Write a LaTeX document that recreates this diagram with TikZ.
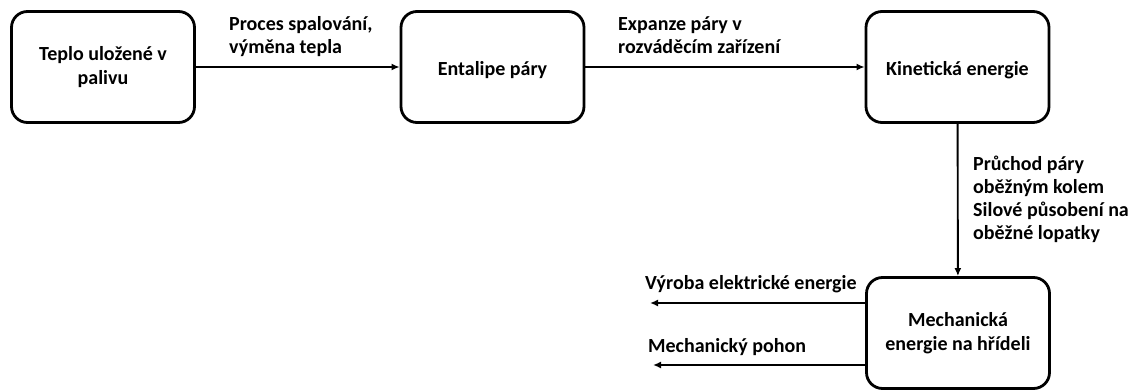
\documentclass[tikz,border=0pt]{standalone}
\usepackage{fontspec}
\setmainfont{Carlito}
\usetikzlibrary{arrows.meta}

\begin{document}
\begin{tikzpicture}[x=1pt,y=-1pt,
    box/.style={draw, line width=2.8pt, rounded corners=16pt,
      minimum width=\bw pt, minimum height=\bh pt, align=center,
      font=\bfseries\fontsize{20}{24}\selectfont,
      execute at begin node={\rule{0pt}{21pt}}},
    flow/.style={line width=1.9pt, -{Latex[length=8pt,width=7pt]}},
    lbl/.style={anchor=north west, align=left, inner sep=0pt,
      font=\bfseries\fontsize{20}{23}\selectfont}]
        \pgfmathsetmacro{\bw}{183}
        \pgfmathsetmacro{\bh}{111}
        \useasboundingbox (0,0) rectangle (1140,390);
        \coordinate (P1) at (103,67);
        \coordinate (P2) at (492.5,67);
        \coordinate (P3) at (957.5,67);
        \coordinate (P4) at (958,333);
        \coordinate (elec) at (650,303);
        \coordinate (mech) at (653,365);
        \node[box] (teplo) at (P1) {Teplo uložené v\\palivu};
        \node[box] (entalpie) at (P2) {Entalipe páry};
        \node[box] (kin) at (P3) {Kinetická energie};
        \node[box] (mech energie) at (P4) {Mechanická\\energie na hřídeli};
        \draw[flow] (teplo) -- (entalpie);
        \draw[flow] (entalpie) -- (kin);
        \draw[flow] (kin) -- (mech energie);
        \draw[flow] (mech energie.west |- elec) -- (elec);
        \draw[flow] (mech energie.west |- mech) -- (mech);
        \node[lbl] (l1) at (229,16) {Proces spalování,\\výměna tepla};
        \node[lbl] (l2) at (618,16) {Expanze páry v\\rozváděcím zařízení};
        \node[lbl] (l3) at (973,156) {Průchod páry\\oběžným kolem\\Silové působení na\\oběžné lopatky};
        \node[lbl] (l4) at (645,275) {Výroba elektrické energie};
        \node[lbl] (l5) at (648,338) {Mechanický pohon};
    \end{tikzpicture}
\end{document}
